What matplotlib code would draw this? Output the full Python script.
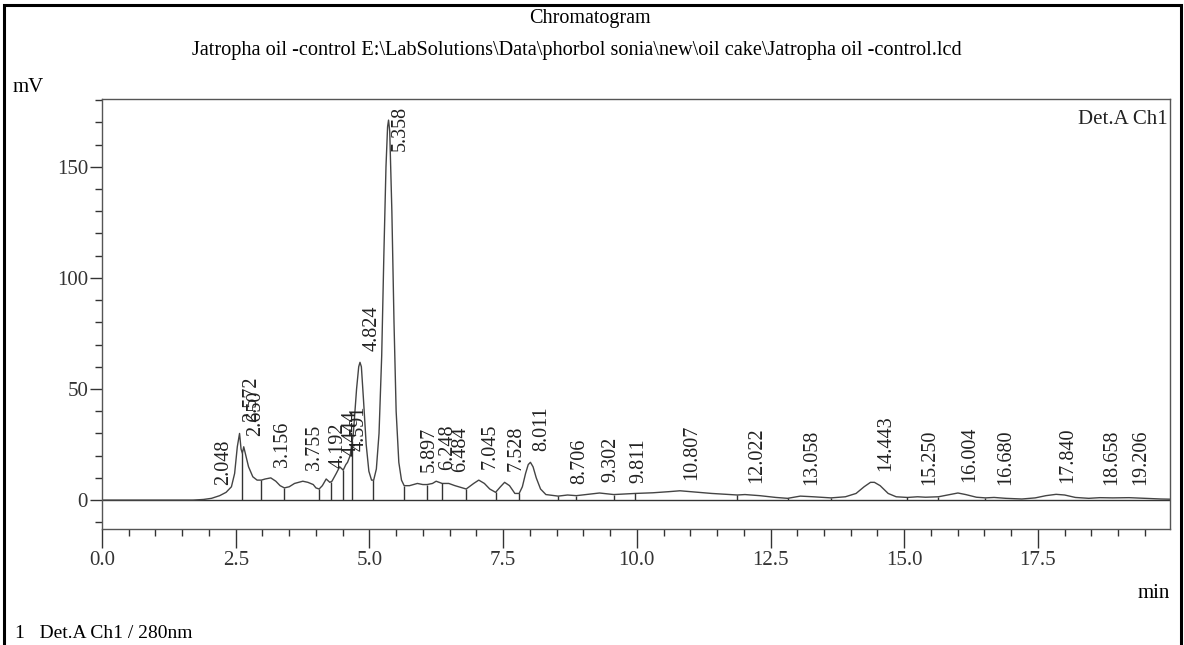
import numpy as np
import matplotlib.pyplot as plt
from matplotlib.ticker import MultipleLocator
from matplotlib.patches import Rectangle

plt.rcParams['font.family'] = ['Liberation Serif', 'DejaVu Serif']

# detector trace (min, mV)
trace_t = [0.0, 1.7, 1.9, 2.048, 2.2, 2.32, 2.42, 2.48, 2.53, 2.572, 2.60, 2.625, 2.65,
           2.68, 2.74, 2.82, 2.90, 2.98, 3.05, 3.156, 3.25, 3.33, 3.41, 3.5, 3.6, 3.755,
           3.85, 3.95, 4.00, 4.06, 4.12, 4.192, 4.26, 4.30, 4.38, 4.444, 4.51, 4.56, 4.591,
           4.64, 4.70, 4.76, 4.80, 4.824, 4.85, 4.89, 4.94, 4.99, 5.04, 5.08, 5.13, 5.18,
           5.23, 5.27, 5.31, 5.34, 5.358, 5.38, 5.42, 5.46, 5.50, 5.55, 5.60, 5.65, 5.75,
           5.897, 6.00, 6.08, 6.18, 6.248, 6.36, 6.484, 6.6, 6.81, 6.95, 7.045, 7.15, 7.25,
           7.36, 7.45, 7.528, 7.62, 7.72, 7.80, 7.86, 7.92, 7.97, 8.011, 8.06, 8.12, 8.2,
           8.3, 8.53, 8.706, 8.87, 9.05, 9.302, 9.57, 9.811, 9.97, 10.3, 10.6, 10.807, 11.0,
           11.4, 11.88, 12.022, 12.3, 12.6, 12.82, 13.058, 13.3, 13.63, 13.9, 14.1, 14.25,
           14.37, 14.443, 14.55, 14.7, 14.85, 15.06, 15.25, 15.4, 15.64, 15.85, 16.004,
           16.15, 16.35, 16.52, 16.68, 16.9, 17.2, 17.45, 17.65, 17.84, 18.0, 18.2, 18.45,
           18.658, 18.9, 19.206, 19.5, 19.8, 20.0]
trace_mv = [0.0, 0.0, 0.3, 0.8, 2.0, 3.5, 6.0, 12.0, 24.0, 30.0, 23.0, 21.0, 24.0,
            21.0, 15.0, 10.5, 9.0, 9.0, 9.5, 10.0, 8.5, 6.5, 5.5, 6.0, 7.5, 8.5,
            8.0, 7.0, 5.5, 5.0, 6.5, 9.5, 8.0, 8.5, 12.0, 15.0, 13.5, 16.0, 17.0,
            20.0, 30.0, 50.0, 60.0, 62.0, 60.0, 45.0, 25.0, 13.0, 9.0, 9.0, 14.0, 30.0,
            65.0, 110.0, 150.0, 168.0, 171.0, 166.0, 130.0, 80.0, 40.0, 17.0, 9.0, 6.5, 6.5,
            7.5, 7.0, 7.0, 7.5, 8.5, 7.5, 7.5, 6.5, 5.0, 7.5, 9.0, 7.5, 5.0,
            3.5, 6.0, 8.0, 6.5, 3.0, 3.0, 6.0, 12.0, 16.0, 17.0, 15.0, 10.0, 5.0,
            2.5, 1.8, 2.3, 2.0, 2.5, 3.2, 2.5, 2.8, 3.0, 3.3, 3.8, 4.2, 3.8,
            3.0, 2.3, 2.5, 2.0, 1.2, 0.8, 1.8, 1.5, 1.0, 1.5, 3.0, 6.0,
            8.0, 8.0, 6.5, 3.0, 1.5, 1.2, 1.5, 1.3, 1.5, 2.5, 3.2,
            2.5, 1.3, 1.0, 1.2, 0.8, 0.5, 1.0, 2.0, 2.6, 2.3, 1.2, 0.8,
            1.1, 1.0, 1.1, 0.8, 0.5, 0.4]

peak_labels = ["2.048", "2.572", "2.650", "3.156", "3.755", "4.192", "4.444", "4.591",
               "4.824", "5.358", "5.897", "6.248", "6.484", "7.045", "7.528", "8.011",
               "8.706", "9.302", "9.811", "10.807", "12.022", "13.058", "14.443",
               "15.250", "16.004", "16.680", "17.840", "18.658", "19.206"]

# integration boundary marks
marker_t = [2.62, 2.98, 3.41, 4.06, 4.28, 4.51, 4.68, 5.06, 5.65, 6.08, 6.36, 6.81,
            7.36, 7.80, 8.53, 8.87, 9.57, 9.97, 11.88, 12.82, 13.63, 15.06, 15.64, 16.52]

fig = plt.figure(figsize=(11.84, 6.45), dpi=100)
ax = fig.add_axes([102 / 1184, 1 - 529 / 645, 1068 / 1184, 430 / 645])

ink = '#333333'
ax.axhline(0, color=ink, lw=1.0)
ax.plot(trace_t, trace_mv, color='#444444', lw=1.0)

for t in marker_t:
    top = np.interp(t, trace_t, trace_mv)
    ax.vlines(t, 0, top, color=ink, lw=1.0)

for lab in peak_labels:
    rt = float(lab)
    h = np.interp(rt, trace_t, trace_mv)
    y = max(h + 5, 7)
    if y + 26 > 178:
        ax.text(rt + 0.22, 177.5, lab, rotation=90, ha='center', va='top',
                fontsize=14.5, color='#222222')
    else:
        ax.text(rt + 0.22, y, lab, rotation=90, ha='center', va='bottom',
                fontsize=14.5, color='#222222')

ax.set_xlim(0, 19.97)
ax.set_ylim(-13, 180.5)
ax.xaxis.set_major_locator(MultipleLocator(2.5))
ax.xaxis.set_minor_locator(MultipleLocator(0.5))
ax.yaxis.set_major_locator(MultipleLocator(50))
ax.yaxis.set_minor_locator(MultipleLocator(10))
ax.xaxis.set_major_formatter(lambda v, p: f"{v:.1f}")
ax.yaxis.set_major_formatter(lambda v, p: f"{v:.0f}")

ax.tick_params(axis='x', which='major', length=14, width=1, pad=2, labelsize=15, colors=ink)
ax.tick_params(axis='x', which='minor', length=5, width=1, colors=ink)
ax.tick_params(axis='y', which='major', length=9, width=1, pad=1, labelsize=15, colors=ink)
ax.tick_params(axis='y', which='minor', length=5, width=1, colors=ink)
for sp in ax.spines.values():
    sp.set_color('#555555')
    sp.set_linewidth(1.0)

ax.text(0.998, 0.975, "Det.A Ch1", transform=ax.transAxes, ha='right', va='top',
        fontsize=15, color='#222222')

fig.text(0.498, 1 - 19 / 645, "Chromatogram", ha='center', va='center', fontsize=14.5)
fig.text(0.487, 1 - 50 / 645,
         "Jatropha oil -control E:\\LabSolutions\\Data\\phorbol sonia\\new\\oil cake\\Jatropha oil -control.lcd",
         ha='center', va='center', fontsize=14.6)
fig.text(13 / 1184, 1 - 87 / 645, "mV", ha='left', va='center', fontsize=15)
fig.text(1170 / 1184, 1 - 593 / 645, "min", ha='right', va='center', fontsize=15)
fig.text(15 / 1184, 1 - 633 / 645, "1   Det.A Ch1 / 280nm", ha='left', va='center', fontsize=14)

fig.patches.append(Rectangle((4 / 1184, -0.05), 1177 / 1184, 1.05 - 5 / 645,
                             transform=fig.transFigure, fill=False, ec='black', lw=2.2))

fig.savefig('out.png', dpi=100)
